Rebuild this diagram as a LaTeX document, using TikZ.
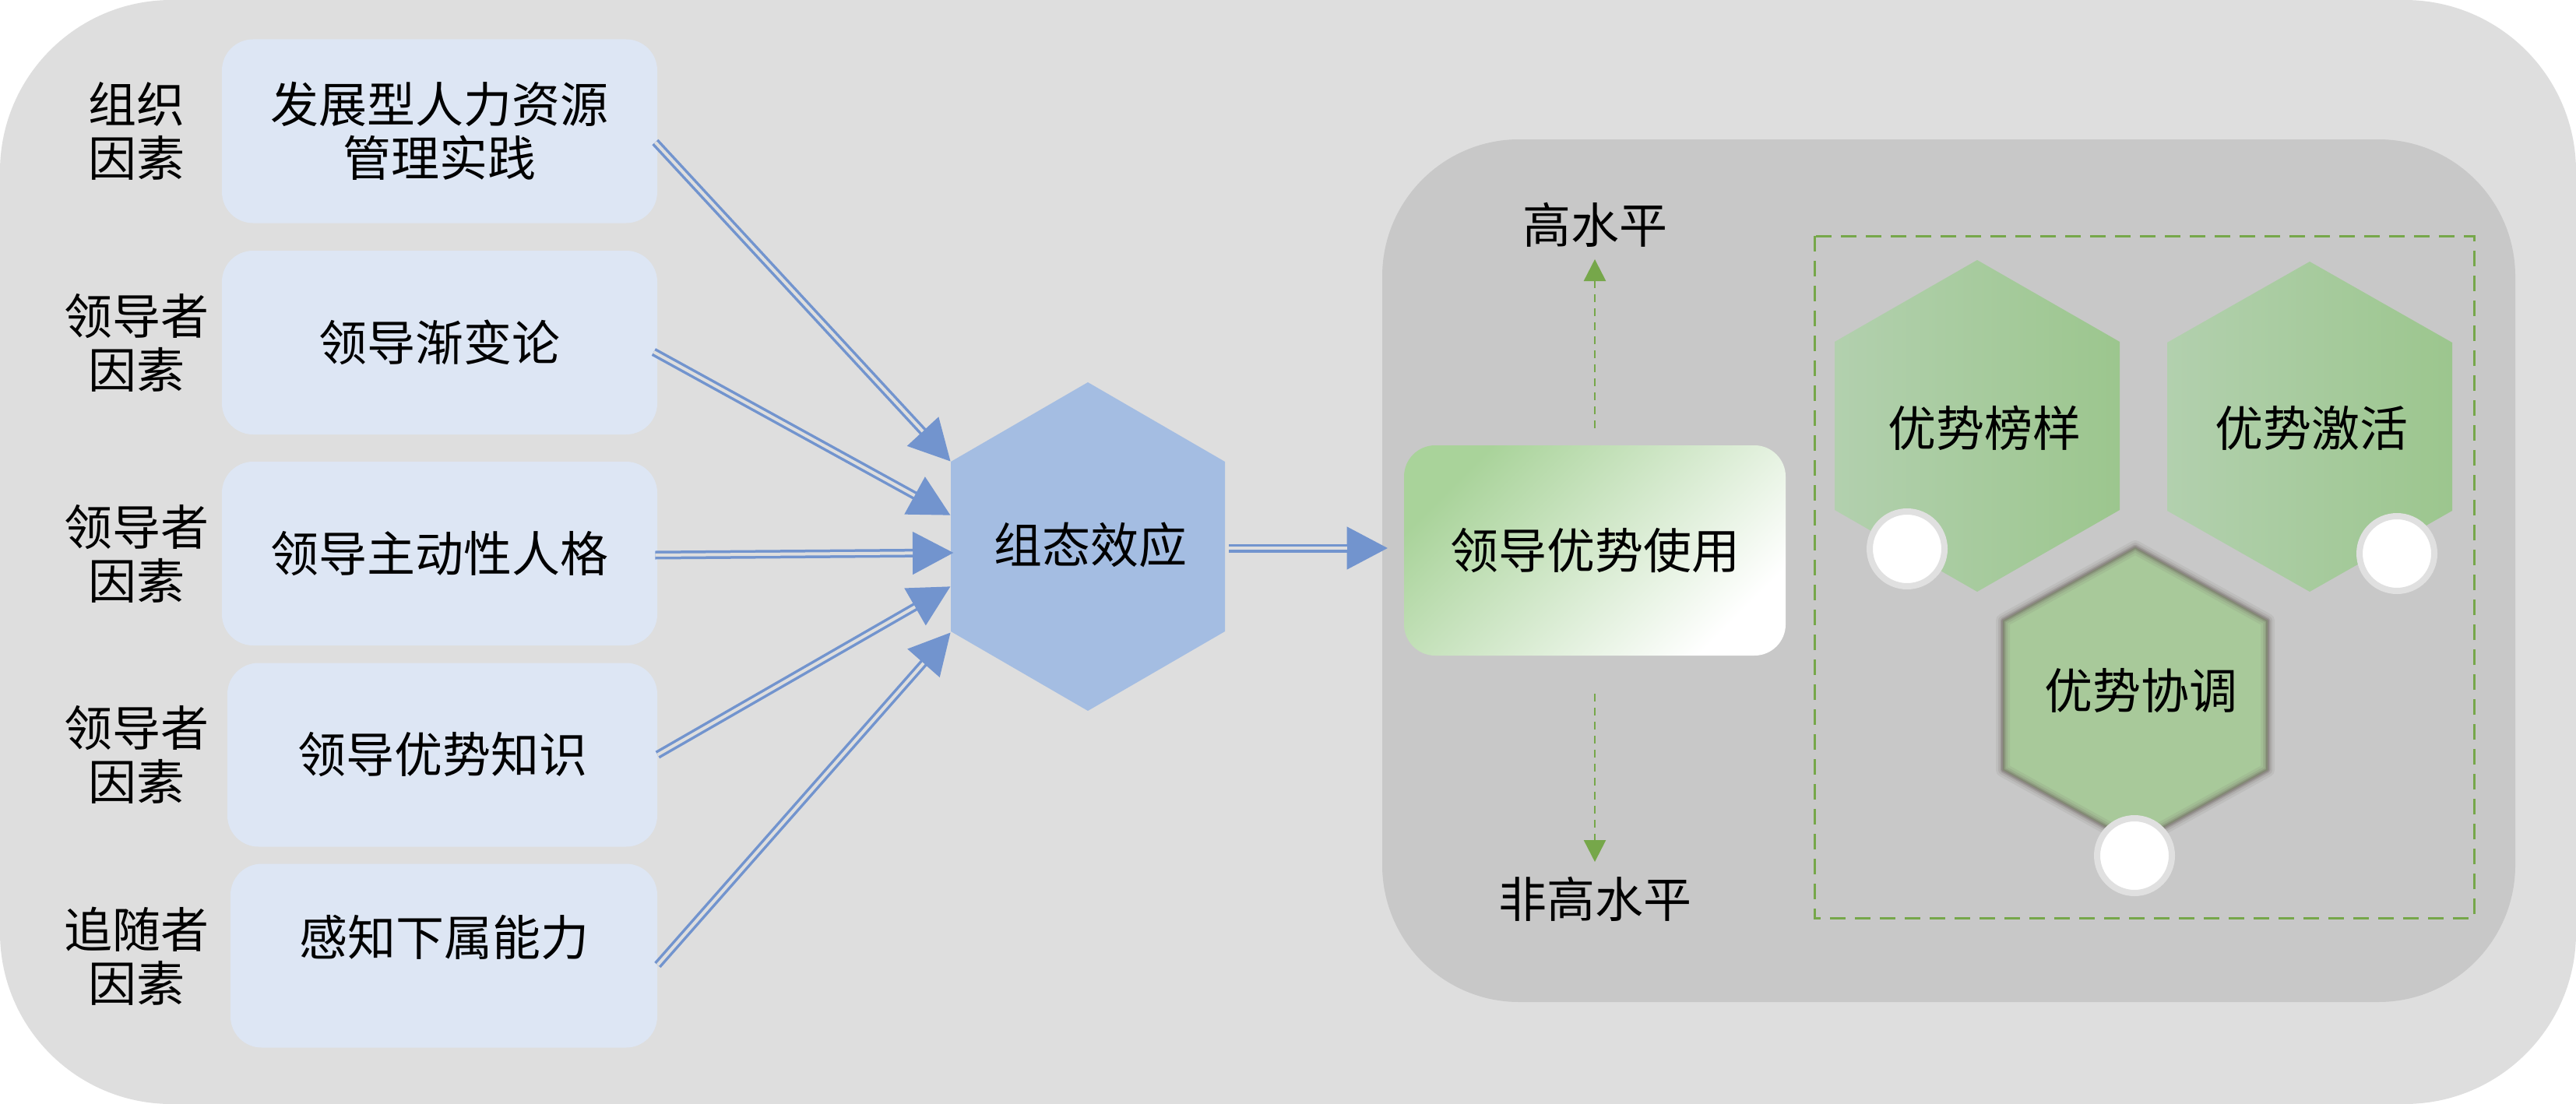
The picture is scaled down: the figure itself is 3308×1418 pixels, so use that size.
\documentclass[tikz,border=0pt]{standalone}
\usepackage{fontspec}
\setmainfont{Noto Sans CJK SC}
\usetikzlibrary{arrows.meta,calc}
\definecolor{bgout}{HTML}{DEDEDE}
\definecolor{bgin}{HTML}{C8C8C8}
\definecolor{boxblue}{HTML}{DDE6F4}
\definecolor{hexblue}{HTML}{A4BDE2}
\definecolor{arrowblue}{HTML}{7294CE}
\definecolor{dgreen}{HTML}{76A74A}
\definecolor{hexL}{HTML}{B2D0AE}
\definecolor{hexR}{HTML}{9CC68E}
\definecolor{hexC}{HTML}{A8C99A}
\definecolor{gboxA}{HTML}{A9D39A}
\definecolor{glow}{HTML}{6E6660}
\definecolor{ringgray}{HTML}{E0E0E0}
\newcommand{\hexshape}[5]{({#1},{#2-#4}) -- ({#1+#3},{#2-#5}) -- ({#1+#3},{#2+#5}) -- ({#1},{#2+#4}) -- ({#1-#3},{#2+#5}) -- ({#1-#3},{#2-#5}) -- cycle}
\begin{document}
\begin{tikzpicture}[x=0.5pt,y=-0.5pt,
  font=\fontsize{31pt}{34.5pt}\selectfont,
  lab/.style={align=center, inner sep=0pt},
  bbox/.style={fill=boxblue, rounded corners=20pt, minimum height=118pt, align=center, inner sep=0pt},
  arr/.style={draw=arrowblue, line width=5.5pt, -{Triangle[length=26.5pt,width=26pt]}},
  arrgap/.style={draw=bgout, line width=2pt},
  gdash/.style={draw=dgreen, line width=1.3pt, dash pattern=on 5pt off 4pt, -{Triangle[length=14pt,width=14pt]}},
  ring/.style={circle, fill=white, draw=ringgray, line width=4pt, minimum size=48pt, inner sep=0pt}]
\useasboundingbox (0,0) rectangle (3308,1418);
% backgrounds
\fill[bgout, rounded corners=110pt] (0,0) rectangle (3308,1418);
\fill[bgin, rounded corners=88pt] (1775,179) rectangle (3230,1287);
\draw[dgreen, line width=1.5pt, dash pattern=on 10pt off 6pt] (2330,303) rectangle (3177,1179);
% left boxes
\node[bbox, minimum width=279.5pt] (b1) at (564.5,168.5) {发展型人力资源\\管理实践};
\node[bbox, minimum width=279.5pt] (b2) at (564.5,440) {领导渐变论};
\node[bbox, minimum width=279.5pt] (b3) at (564.5,711) {领导主动性人格};
\node[bbox, minimum width=276pt] (b4) at (568,969.5) {领导优势知识};
\node[bbox, minimum width=274pt] (b5) at (570,1227.5) {};
\node[lab] (b5t) at (570,1204) {感知下属能力};
% left labels
\node[lab] (l1) at (175,168) {组织\\因素};
\node[lab] (l2) at (175,440) {领导者\\因素};
\node[lab] (l3) at (175,711) {领导者\\因素};
\node[lab] (l4) at (175,969) {领导者\\因素};
\node[lab] (l5) at (175,1228) {追随者\\因素};
% central hexagon
\fill[hexblue] \hexshape{1397}{702}{176}{211}{109};
\node[lab] (hx) at (1400,700) {组态效应};
\coordinate (t1) at (1221,593);
\coordinate (t2) at (1221,662);
\coordinate (t3) at (1225,710);
\coordinate (t4) at (1221,753);
\coordinate (t5) at (1221,812);
\coordinate (hR) at (1578,704);
% start points on the boxes
\coordinate (a1) at ($(b1.east)+(-3,14)$);
\coordinate (a2) at ($(b2.east)+(-5,12)$);
\coordinate (a3) at ($(b3.east)+(-3,2)$);
\coordinate (a4) at ($(b4.east)+(0,0)$);
\coordinate (a5) at ($(b5.east)+(0,12)$);
% arrows into hexagon
\foreach \i in {1,...,5}{
  \draw[arr] (a\i) -- (t\i);
  \draw[arrgap, shorten >=26.5pt] (a\i) -- (t\i);
}
% green box
\node[lab, rounded corners=20pt, minimum width=245pt, minimum height=135pt,
      top color=gboxA, bottom color=white, shading angle=45] (gb) at (2048,707) {领导优势使用};
\draw[arr, shorten >=10pt] (hR) -- (gb.west |- hR);
\draw[arrgap, shorten >=36.5pt] (hR) -- (gb.west |- hR);
% high / low
\node[lab] (hi) at (2048,289) {高水平};
\node[lab] (lo) at (2048,1155) {非高水平};
\coordinate (hiA) at (2048,550);
\coordinate (hiT) at (2048,333);
\coordinate (loA) at (2048,891);
\coordinate (loT) at (2048,1107);
\draw[gdash] (hiA) -- (hiT);
\draw[gdash] (loA) -- (loT);
% green hexagons
\shade[left color=hexL, right color=hexR] \hexshape{2539}{547}{183}{213}{108};
\shade[left color=hexL, right color=hexR] \hexshape{2966}{548}{183}{212}{108};
\fill[hexC] \hexshape{2742}{893}{170}{190}{96};
\draw[glow, line width=9pt, opacity=0.10, line join=round] \hexshape{2742}{893}{170}{190}{96};
\draw[glow, line width=6pt, opacity=0.15, line join=round] \hexshape{2742}{893}{170}{190}{96};
\draw[glow, line width=3.5pt, opacity=0.25, line join=round] \hexshape{2742}{893}{170}{190}{96};
\draw[glow, line width=1.8pt, opacity=0.35, line join=round] \hexshape{2742}{893}{170}{190}{96};
\node[lab] (s1) at (2548,550) {优势榜样};
\node[lab] (s2) at (2968,550) {优势激活};
\node[lab] (s3) at (2749,887) {优势协调};
% circles
\node[ring] (c1) at (2449,705) {};
\node[ring] (c2) at (3078,711) {};
\node[ring] (c3) at (2741,1099) {};
\end{tikzpicture}
\end{document}
